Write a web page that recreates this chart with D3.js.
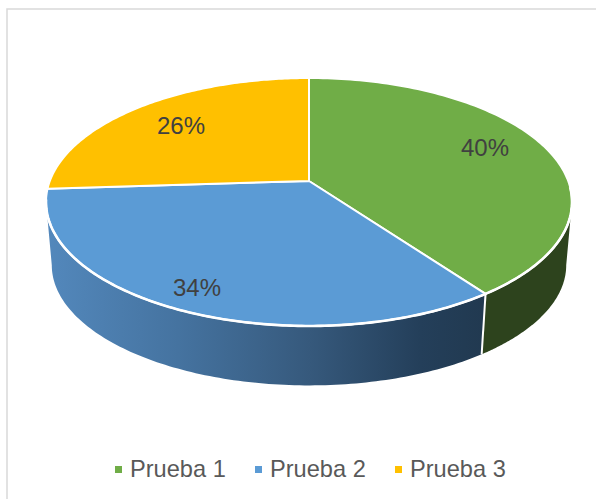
<!DOCTYPE html>
<html><head><meta charset="utf-8">
<script src="https://cdn.jsdelivr.net/npm/d3@7"></script>
<style>html,body{margin:0;padding:0;background:#fff}svg{display:block}text{font-family:"Liberation Sans",Arial,sans-serif}</style>
</head><body><svg id="c" width="596" height="499"></svg>
<script>
const categories = ["Prueba 1","Prueba 2","Prueba 3"];
const values = [40,34,26];
const colors = ["#70AD47","#5B9BD5","#FFC000"];

const svg = d3.select("#c");
const cx=309, cy=181, R=259.2, S=120.4, k=0.1694, baseScaleX=0.978, baseScaleY=0.97, depth=63.8;
const pie = d3.pie().sort(null).value(d=>d);
const arcs = pie(values);

function proj(theta){
  const u=Math.sin(theta), v=-Math.cos(theta), w=1-k*v;
  return [cx+R*u/w, cy+S*v/w];
}
function base(theta){
  const p=proj(theta);
  return [cx+(p[0]-cx)*baseScaleX, cy+(p[1]-cy)*baseScaleY+depth];
}
// angles where the projected disk reaches its horizontal extremes (silhouette of the wall)
const extRight=Math.PI-Math.acos(k), extLeft=Math.PI+Math.acos(k);
const samples=(a,b,n=120)=>d3.range(n+1).map(i=>a+(b-a)*i/n);
const line=d3.line();

const defs=svg.append("defs");
const g=defs.append("linearGradient").attr("id","blueWall").attr("gradientUnits","userSpaceOnUse")
  .attr("x1",46).attr("x2",486).attr("y1",0).attr("y2",0);
[[0,"#5388BC"],[0.3,"#4573A0"],[0.6,"#36597C"],[0.85,"#243F5A"],[1,"#213950"]].forEach(s=>g.append("stop").attr("offset",s[0]).attr("stop-color",s[1]));

svg.append("rect").attr("x",7).attr("y",9).attr("width",640).attr("height",600)
  .attr("fill","#fff").attr("stroke","#d9d9d9").attr("stroke-width",1.5);

const wall=(a,b,fill)=>{
  const ts=samples(a,b);
  const pts=ts.map(t=>proj(t)).concat(ts.slice().reverse().map(t=>base(t)));
  svg.append("path").attr("d",line(pts)+"Z").attr("fill",fill);
};
const split=arcs[0].endAngle;
wall(extRight,split,"#2D431D");
wall(split,Math.min(arcs[1].endAngle,extLeft),"url(#blueWall)");
svg.append("path").attr("d",line([proj(split),base(split)])).attr("stroke","#fff").attr("stroke-width",2).attr("fill","none");

arcs.forEach((a,i)=>{
  const pts=[[cx,cy]].concat(samples(a.startAngle,a.endAngle).map(t=>proj(t)));
  svg.append("path").attr("d",line(pts)+"Z").attr("fill",colors[i])
    .attr("stroke","#fff").attr("stroke-width",2).attr("stroke-linejoin","round");
});
// brighter front rim
svg.append("path").attr("d",line(samples(extRight-0.12,extLeft+0.02,240).map(proj)))
  .attr("fill","none").attr("stroke","#fff").attr("stroke-width",2.6);

const labelPos=[[485,147],[197,287],[181,125]];
arcs.forEach((a,i)=>{
  svg.append("text").attr("x",labelPos[i][0]).attr("y",labelPos[i][1]+8.5)
    .attr("text-anchor","middle").attr("font-size",24).attr("fill","#404040")
    .text(Math.round(a.value)+"%");
});

const legendX=[115,255,395];
categories.forEach((c,i)=>{
  svg.append("rect").attr("x",legendX[i]).attr("y",466).attr("width",7).attr("height",7).attr("fill",colors[i]);
  svg.append("text").attr("x",legendX[i]+15).attr("y",477).attr("font-size",23.6).attr("fill","#595959").text(c);
});
</script></body></html>
